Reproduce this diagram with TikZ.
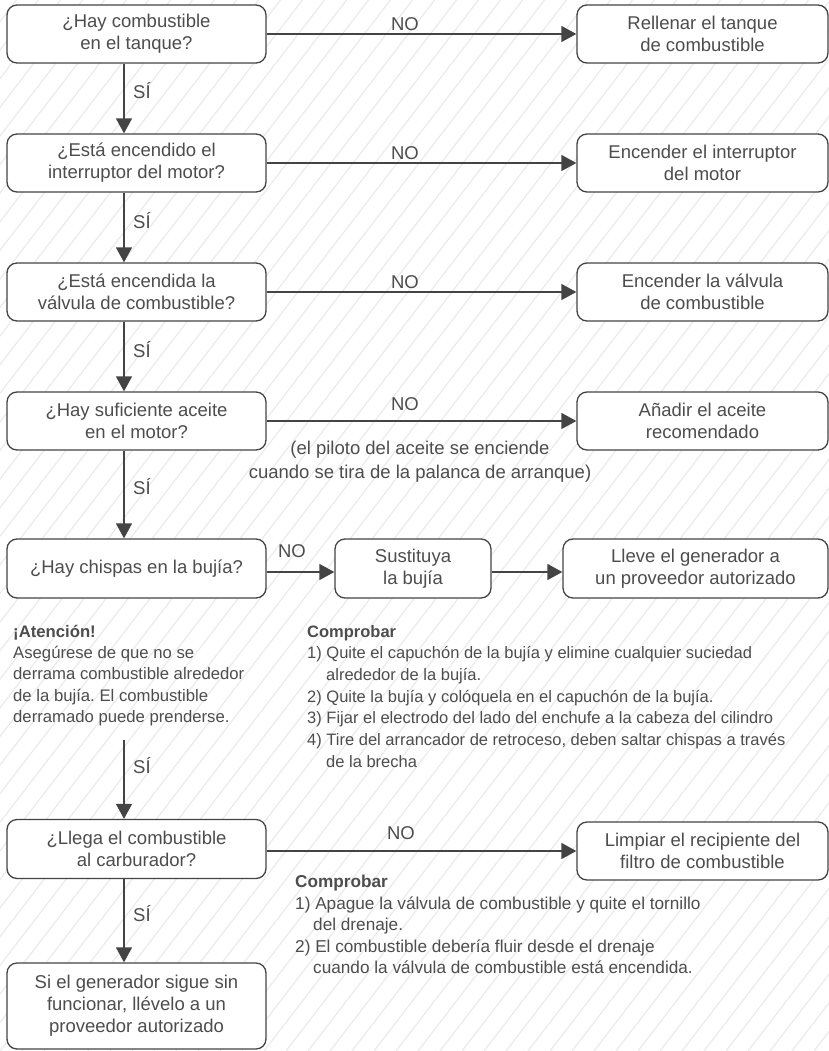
\documentclass[tikz,border=0pt]{standalone}
\usepackage{fontspec}
\setmainfont{Liberation Sans}
\usetikzlibrary{arrows.meta}
\definecolor{ink}{HTML}{444444}
\definecolor{txt}{HTML}{4D4D4D}
\definecolor{hatch}{HTML}{EBEBEB}
\frenchspacing
\begin{document}
\begin{tikzpicture}[x=1pt,y=-1pt,
  box/.style={draw=ink, line width=1.3pt, rounded corners=10pt, fill=white, text=txt,
    align=center, inner sep=0pt, font=\fontsize{18.5}{22}\selectfont},
  arr/.style={draw=ink, line width=1.5pt, -{Triangle[length=15pt,width=16pt]}},
  lbl/.style={text=txt, inner sep=0pt, font=\fontsize{18.5}{22}\selectfont},
  note/.style={text=txt, align=left, inner sep=0pt, anchor=north west}]
\useasboundingbox (0,0) rectangle (829,1051);
\fill[white] (0,0) rectangle (829,1051);
\begin{scope}
  \clip (0,0) rectangle (829,1051);
  \foreach \i in {-38,...,38} {
    \draw[hatch, line width=1.2pt] (\i*22,1051) -- ++(808.5,-1051);
  }
\end{scope}

% left column
\node[box, minimum width=259pt, minimum height=58pt] (b1) at (136.5,34) {¿Hay combustible\\en el tanque?};
\node[box, minimum width=259pt, minimum height=58pt] (b2) at (136.5,163) {¿Está encendido el\\interruptor del motor?};
\node[box, minimum width=259pt, minimum height=58pt] (b3) at (136.5,292) {¿Está encendida la\\válvula de combustible?};
\node[box, minimum width=259pt, minimum height=58pt] (b4) at (136.5,421) {¿Hay suficiente aceite\\en el motor?};
\node[box, minimum width=259pt, minimum height=59pt] (b5) at (136.5,568.5) {¿Hay chispas en la bujía?};
\node[box, minimum width=259pt, minimum height=59pt] (b6) at (136.5,849) {¿Llega el combustible\\al carburador?};
\node[box, minimum width=259pt, minimum height=86pt] (b7) at (136.5,1006) {Si el generador sigue sin\\funcionar, llévelo a un\\proveedor autorizado};

% right column
\node[box, minimum width=251pt, minimum height=58pt] (r1) at (702.5,34) {Rellenar el tanque\\de combustible};
\node[box, minimum width=251pt, minimum height=58pt] (r2) at (702.5,163) {Encender el interruptor\\del motor};
\node[box, minimum width=251pt, minimum height=58pt] (r3) at (702.5,292) {Encender la válvula\\de combustible};
\node[box, minimum width=251pt, minimum height=58pt] (r4) at (702.5,421) {Añadir el aceite\\recomendado};
\node[box, minimum width=156pt, minimum height=59pt] (sust) at (413,568.5) {Sustituya\\la bujía};
\node[box, minimum width=265pt, minimum height=59pt] (lleve) at (695.5,568.5) {Lleve el generador a\\un proveedor autorizado};
\node[box, minimum width=251pt, minimum height=58pt] (r6) at (702.5,851) {Limpiar el recipiente del\\filtro de combustible};

% vertical connectors
\coordinate (vx) at (124,0);
\coordinate (s56) at (124,740);
\draw[arr] (b1.south -| vx) -- (b2.north -| vx);
\draw[arr] (b2.south -| vx) -- (b3.north -| vx);
\draw[arr] (b3.south -| vx) -- (b4.north -| vx);
\draw[arr] (b4.south -| vx) -- (b5.north -| vx);
\draw[arr] (s56) -- (b6.north -| vx);
\draw[arr] (b6.south -| vx) -- (b7.north -| vx);

\node[lbl, anchor=base west] (si1) at (133,98.6) {SÍ};
\node[lbl, anchor=base west] (si2) at (133,228.6) {SÍ};
\node[lbl, anchor=base west] (si3) at (133,357.6) {SÍ};
\node[lbl, anchor=base west] (si4) at (133,494) {SÍ};
\node[lbl, anchor=base west] (si5) at (133,773.6) {SÍ};
\node[lbl, anchor=base west] (si6) at (133,921.6) {SÍ};

% horizontal connectors
\coordinate (h5) at (0,572);
\coordinate (h6) at (0,851);
\draw[arr] (b1.east) -- (r1.west);
\draw[arr] (b2.east) -- (r2.west);
\draw[arr] (b3.east) -- (r3.west);
\draw[arr] (b4.east) -- (r4.west);
\draw[arr] (b5.east |- h5) -- (sust.west |- h5);
\draw[arr] (sust.east |- h5) -- (lleve.west |- h5);
\draw[arr] (b6.east |- h6) -- (r6.west |- h6);

\node[lbl, anchor=base] (no1) at (405,30.6) {NO};
\node[lbl, anchor=base] (no2) at (405,159.6) {NO};
\node[lbl, anchor=base] (no3) at (405,288.6) {NO};
\node[lbl, anchor=base] (no4) at (405,410.6) {NO};
\node[lbl, anchor=base] (no5) at (292,557.6) {NO};
\node[lbl, anchor=base] (no6) at (401,839.6) {NO};

\node[lbl, align=center, anchor=north, font=\fontsize{18.5}{24}\selectfont] (piloto) at (420,441) {(el piloto del aceite se enciende\\cuando se tira de la palanca de arranque)};

% notes
\node[note, font=\fontsize{16.7}{21.2}\selectfont] (aten) at (13,625) {\textbf{¡Atención!}\\Asegúrese de que no se\\derrama combustible alrededor\\de la bujía. El combustible\\derramado puede prenderse.};
\node[note, font=\fontsize{16.5}{21.7}\selectfont] (comp1) at (307,625) {\textbf{Comprobar}\\1) Quite el capuchón de la bujía y elimine cualquier suciedad\\\hspace*{19pt}alrededor de la bujía.\\2) Quite la bujía y colóquela en el capuchón de la bujía.\\3) Fijar el electrodo del lado del enchufe a la cabeza del cilindro\\4) Tire del arrancador de retroceso, deben saltar chispas a través\\\hspace*{19pt}de la brecha};
\node[note, font=\fontsize{17.2}{21.5}\selectfont] (comp2) at (295,875) {\textbf{Comprobar}\\1) Apague la válvula de combustible y quite el tornillo\\\hspace*{18pt}del drenaje.\\2) El combustible debería fluir desde el drenaje\\\hspace*{18pt}cuando la válvula de combustible está encendida.};
\end{tikzpicture}
\end{document}
